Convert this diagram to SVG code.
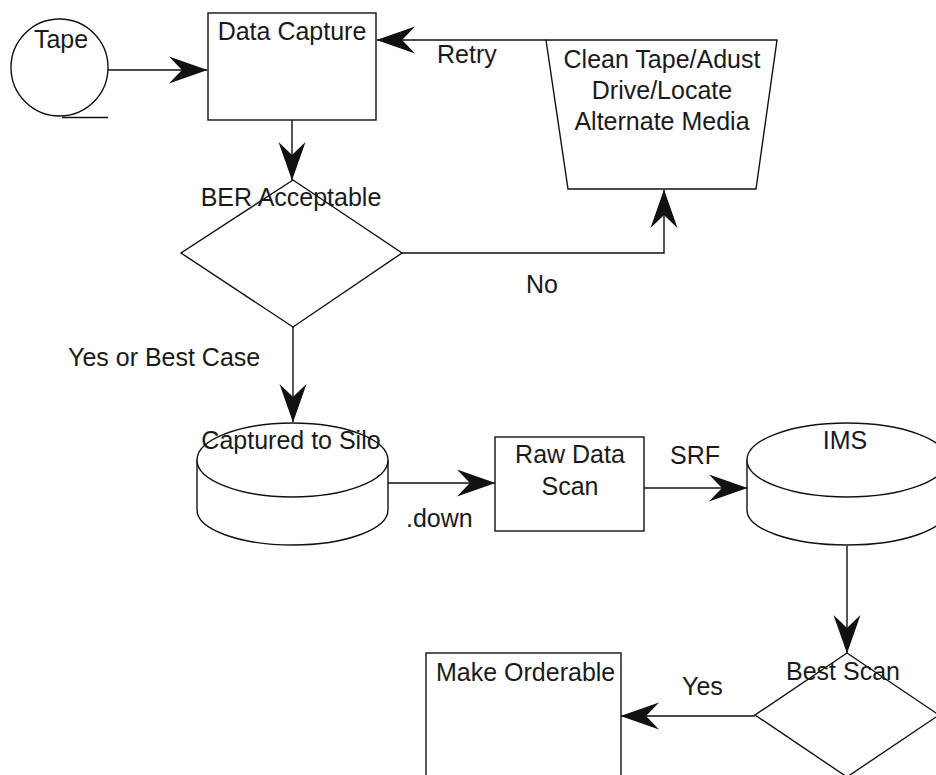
<svg xmlns="http://www.w3.org/2000/svg" width="936" height="775" viewBox="0 0 936 775">
  <style>
    .shape { fill: #ffffff; stroke: #111111; stroke-width: 1.4; }
    .edge { fill: none; stroke: #111111; stroke-width: 1.4; marker-end: url(#barb); }
    .label { font-family: "Liberation Sans", Arial, sans-serif; font-size: 25px; fill: #1a1a1a; }
    .mid { text-anchor: middle; }
  </style>
  <defs>
    <!-- swept-back barbed arrowhead, tip at the origin -->
    <marker id="barb" markerUnits="userSpaceOnUse" viewBox="-40 -15 42 30" refX="0" refY="0" markerWidth="42" markerHeight="30" orient="auto" overflow="visible">
      <path d="M0.5,0 L-38,-13.5 Q-30,-5 -25,0 Q-30,5 -38,13.5 Z" fill="#111111"/>
    </marker>
  </defs>

  <rect width="936" height="775" fill="#ffffff"/>

  <!-- connectors -->
  <g id="connectors">
    <path class="edge" d="M108,70 H207"/>
    <path class="edge" d="M292,120 V180"/>
    <path class="edge" d="M402,253 H664 V190"/>
    <path class="edge" d="M546,40 H377"/>
    <path class="edge" d="M293,327 V422"/>
    <path class="edge" d="M388,483 H495"/>
    <path class="edge" d="M644,488 H747"/>
    <path class="edge" d="M847,546 V653"/>
    <path class="edge" d="M755,716 H621"/>
    <text class="label" x="437" y="63">Retry</text>
    <text class="label" x="526" y="293">No</text>
    <text class="label" x="68" y="366">Yes or Best Case</text>
    <text class="label" x="406" y="527">.down</text>
    <text class="label" x="670" y="464">SRF</text>
    <text class="label" x="682" y="695">Yes</text>
  </g>

  <g id="tape">
    <circle class="shape" cx="59.5" cy="67.5" r="48.5"/>
    <path class="shape" d="M62,117.5 H108"/>
    <text class="label mid" x="61" y="48">Tape</text>
  </g>

  <g id="data-capture">
    <rect class="shape" x="208" y="13" width="168" height="107"/>
    <text class="label mid" x="292" y="40">Data Capture</text>
  </g>

  <g id="clean-tape">
    <polygon class="shape" points="546,40 777,40 756,189 568,189"/>
    <text class="label mid" x="662" y="68">Clean Tape/Adust</text>
    <text class="label mid" x="662" y="99">Drive/Locate</text>
    <text class="label mid" x="662" y="130">Alternate Media</text>
  </g>

  <g id="ber-acceptable">
    <polygon class="shape" points="293,180 402,253 293,327 181,253"/>
    <text class="label mid" x="291" y="206">BER Acceptable</text>
  </g>

  <g id="captured-to-silo">
    <path class="shape" d="M197,460 V510 A95.5,35 0 0 0 388,510 V460"/>
    <ellipse class="shape" cx="292.5" cy="460" rx="95.5" ry="37"/>
    <text class="label mid" x="291" y="449">Captured to Silo</text>
  </g>

  <g id="raw-data-scan">
    <rect class="shape" x="495" y="437" width="149" height="94"/>
    <text class="label mid" x="570" y="463">Raw Data</text>
    <text class="label mid" x="570" y="495">Scan</text>
  </g>

  <g id="ims">
    <path class="shape" d="M747,460 V510 A100,35 0 0 0 947,510 V460"/>
    <ellipse class="shape" cx="847" cy="460" rx="100" ry="37"/>
    <text class="label mid" x="845" y="449">IMS</text>
  </g>

  <g id="best-scan">
    <polygon class="shape" points="847,653 939,715 847,777 755,715"/>
    <text class="label mid" x="843" y="680">Best Scan</text>
  </g>

  <g id="make-orderable">
    <rect class="shape" x="426" y="653" width="195" height="130"/>
    <text class="label" x="436" y="681">Make Orderable</text>
  </g>
</svg>
